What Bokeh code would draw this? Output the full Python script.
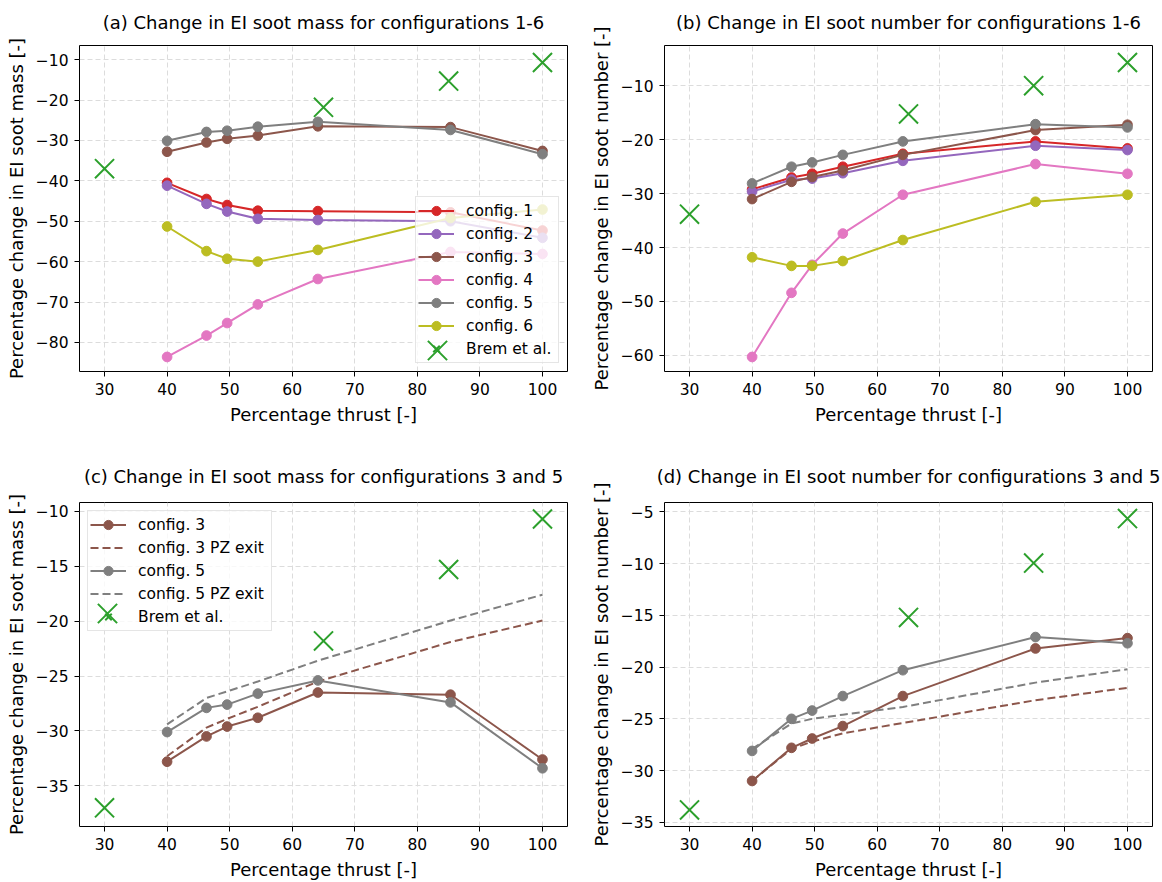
from bokeh.plotting import figure
from bokeh.models import Range1d, FixedTicker, CustomJSTickFormatter, Legend, LegendItem
from bokeh.layouts import column, row
from bokeh.embed import file_html
from bokeh.resources import INLINE

FONT = "DejaVu Sans"

# Engine thrust settings (percentage of max thrust)
thrust = [40, 46.3, 49.6, 54.5, 64.1, 85.3, 100]
brem_thrust = [30, 65, 85, 100]

# Change in EI soot mass [%]
mass_c1 = [-40.5, -44.5, -46.0, -47.4, -47.5, -47.8, -52.3]
mass_c2 = [-41.2, -45.7, -47.6, -49.4, -49.7, -50.0, -54.1]
mass_c3 = [-32.8, -30.5, -29.6, -28.8, -26.5, -26.7, -32.6]
mass_c4 = [-83.6, -78.3, -75.2, -70.6, -64.3, -57.6, -58.1]
mass_c5 = [-30.1, -27.9, -27.6, -26.6, -25.4, -27.4, -33.4]
mass_c6 = [-51.3, -57.4, -59.3, -60.0, -57.1, -49.2, -47.1]
mass_c3_pz = [-32.3, -29.7, -28.9, -27.8, -25.5, -21.9, -19.95]
mass_c5_pz = [-29.4, -27.0, -26.4, -25.5, -23.6, -19.95, -17.6]
brem_mass = [-37.0, -21.8, -15.3, -10.7]

# Change in EI soot number [%]
num_c1 = [-29.2, -27.0, -26.3, -25.0, -22.6, -20.3, -21.6]
num_c2 = [-29.6, -27.4, -27.2, -26.2, -23.9, -21.1, -21.9]
num_c3 = [-31.0, -27.8, -26.9, -25.7, -22.8, -18.2, -17.2]
num_c4 = [-60.3, -48.4, -43.2, -37.4, -30.2, -24.5, -26.3]
num_c5 = [-28.1, -25.0, -24.2, -22.8, -20.3, -17.1, -17.7]
num_c6 = [-41.8, -43.4, -43.4, -42.5, -38.6, -31.5, -30.2]
num_c3_pz = [-31.0, -27.9, -27.2, -26.4, -25.4, -23.2, -22.0]
num_c5_pz = [-27.9, -25.45, -25.0, -24.6, -23.85, -21.5, -20.2]
brem_number = [-33.8, -15.2, -9.95, -5.65]

x_ticks = [30, 40, 50, 60, 70, 80, 90, 100]

RED = "#d62728"
PURPLE = "#9467bd"
BROWN = "#8c564b"
PINK = "#e377c2"
GRAY = "#7f7f7f"
OLIVE = "#bcbd22"
GREEN = "#2ca02c"

TICK_SIZE = "15.5px"
LABEL_SIZE = "18px"
DASH = "8 4"
X_SIZE = 27


def make_fig(title, ylabel, yrange, yticks, left, right, top, bottom, title_gap):
    p = figure(width=581, height=441, x_range=Range1d(26, 104), y_range=Range1d(*yrange),
               output_backend="svg", toolbar_location=None,
               min_border_left=left, min_border_right=right,
               min_border_top=top, min_border_bottom=bottom)
    p.title.text = title
    p.title.text_font = FONT
    p.title.text_font_size = LABEL_SIZE
    p.title.text_font_style = "normal"
    p.title.text_color = "black"
    p.title.align = "center"
    p.title.vertical_align = "top"
    p.title.standoff = title_gap

    p.xaxis.ticker = FixedTicker(ticks=x_ticks)
    p.yaxis.ticker = FixedTicker(ticks=yticks)
    p.yaxis.formatter = CustomJSTickFormatter(
        code="return tick < 0 ? '\u2212' + Math.abs(tick) : String(tick);")
    p.xaxis.axis_label = "Percentage thrust [-]"
    p.yaxis.axis_label = ylabel
    for ax in p.axis:
        ax.axis_line_color = None
        ax.major_tick_out = 5
        ax.major_tick_in = 0
        ax.minor_tick_out = 0
        ax.minor_tick_in = 0
        ax.major_tick_line_color = "black"
        ax.major_label_text_font = FONT
        ax.major_label_text_font_size = TICK_SIZE
        ax.major_label_text_color = "black"
        ax.major_label_standoff = 6
        ax.axis_label_text_font = FONT
        ax.axis_label_text_font_size = LABEL_SIZE
        ax.axis_label_text_font_style = "normal"
        ax.axis_label_text_color = "black"
        ax.axis_label_standoff = 6
    p.grid.grid_line_color = "#dcdcdc"
    p.grid.grid_line_dash = "5 3"
    p.grid.grid_line_width = 1
    p.outline_line_color = "black"
    p.outline_line_width = 1
    p.background_fill_color = "white"
    p.border_fill_color = "white"
    return p


def series(p, y, color, dash=None, markers=True):
    rs = []
    if dash:
        rs.append(p.line(thrust, y, line_color=color, line_width=2, line_dash=dash))
    else:
        rs.append(p.line(thrust, y, line_color=color, line_width=2))
    if markers:
        rs.append(p.scatter(thrust, y, marker="circle", size=9.7,
                            fill_color=color, line_color=color))
    return rs


def brem(p, y):
    return p.scatter(brem_thrust, y, marker="x", size=X_SIZE, line_color=GREEN, line_width=2)


def add_legends(p, items, brem_r, location, label_width, x_loc):
    leg = Legend(items=items, location=location, margin=8, padding=2, spacing=0,
                 glyph_width=36, glyph_height=23, label_height=23,
                 label_width=label_width, label_standoff=12,
                 label_text_font=FONT, label_text_font_size=TICK_SIZE,
                 label_text_color="black",
                 border_line_color="#cccccc", border_line_width=1,
                 background_fill_color="white", background_fill_alpha=0.8)
    p.add_layout(leg)
    # full-size cross drawn over the legend's Brem et al. entry
    leg_x = Legend(items=[LegendItem(label=" ", renderers=[brem_r])], location=x_loc,
                   margin=0, padding=0, glyph_width=68, glyph_height=68,
                   label_width=0, label_standoff=0, border_line_color=None,
                   background_fill_alpha=0)
    p.add_layout(leg_x)


MASS_LABEL = "Percentage change in EI soot mass [-]"
NUM_LABEL = "Percentage change in EI soot number [-]"

# (a) soot mass, configurations 1-6
pa = make_fig("(a) Change in EI soot mass for configurations 1-6", MASS_LABEL,
              (-87.2, -6.5), [-80, -70, -60, -50, -40, -30, -20, -10], 79, 14, 45, 70, 22)
items = []
for lab, y, c in [("config. 1", mass_c1, RED), ("config. 2", mass_c2, PURPLE),
                  ("config. 3", mass_c3, BROWN), ("config. 4", mass_c4, PINK),
                  ("config. 5", mass_c5, GRAY), ("config. 6", mass_c6, OLIVE)]:
    items.append(LegendItem(label=lab, renderers=series(pa, y, c)))
br = brem(pa, brem_mass)
items.append(LegendItem(label="Brem et al.", renderers=[br]))
add_legends(pa, items, br, "bottom_right", 90, (324, -12.5))

# (b) soot number, configurations 1-6
pb = make_fig("(b) Change in EI soot number for configurations 1-6", NUM_LABEL,
              (-63.0, -2.5), [-60, -50, -40, -30, -20, -10], 83, 10, 45, 70, 22)
for y, c in [(num_c1, RED), (num_c2, PURPLE), (num_c3, BROWN), (num_c4, PINK),
             (num_c5, GRAY), (num_c6, OLIVE)]:
    series(pb, y, c)
brem(pb, brem_number)

# (c) soot mass, configurations 3 and 5
pc = make_fig("(c) Change in EI soot mass for configurations 3 and 5", MASS_LABEL,
              (-38.7, -9.2), [-35, -30, -25, -20, -15, -10], 79, 14, 61, 53, 27)
items_c = [
    LegendItem(label="config. 3", renderers=series(pc, mass_c3, BROWN)),
    LegendItem(label="config. 3 PZ exit", renderers=series(pc, mass_c3_pz, BROWN, DASH, False)),
    LegendItem(label="config. 5", renderers=series(pc, mass_c5, GRAY)),
    LegendItem(label="config. 5 PZ exit", renderers=series(pc, mass_c5_pz, GRAY, DASH, False)),
]
brc = brem(pc, brem_mass)
items_c.append(LegendItem(label="Brem et al.", renderers=[brc]))
add_legends(pc, items_c, brc, "top_left", 131, (-5.7, 179.5))

# (d) soot number, configurations 3 and 5
pd = make_fig("(d) Change in EI soot number for configurations 3 and 5", NUM_LABEL,
              (-35.4, -4.1), [-35, -30, -25, -20, -15, -10, -5], 83, 10, 61, 53, 27)
series(pd, num_c3, BROWN)
series(pd, num_c3_pz, BROWN, DASH, False)
series(pd, num_c5, GRAY)
series(pd, num_c5_pz, GRAY, DASH, False)
brem(pd, brem_number)

layout = column(row(pa, pb), row(pc, pd))
open("out.html", "w").write(file_html(layout, INLINE))
